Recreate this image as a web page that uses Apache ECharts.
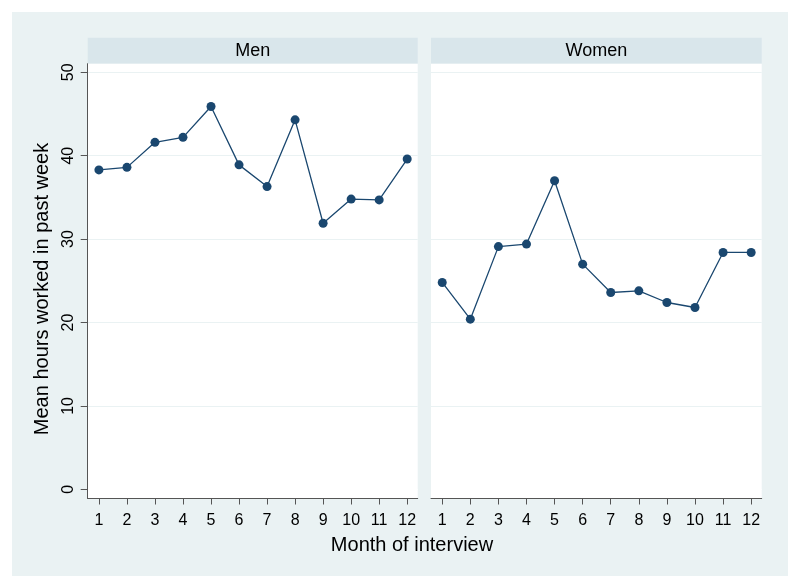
<!DOCTYPE html>
<html>
<head>
<meta charset="utf-8">
<script src="https://cdn.jsdelivr.net/npm/echarts@6/dist/echarts.min.js"></script>
<style>html,body{margin:0;padding:0;background:#fff}#c{width:800px;height:588px}</style>
</head>
<body>
<div id="c"></div>
<script>
const months = [1,2,3,4,5,6,7,8,9,10,11,12];
const menHours = [38.3, 38.6, 41.6, 42.2, 45.9, 38.9, 36.3, 44.3, 31.9, 34.8, 34.7, 39.6];
const womenHours = [24.8, 20.4, 29.1, 29.4, 37.0, 27.0, 23.6, 23.8, 22.4, 21.8, 28.4, 28.4];
const yTicks = [0, 10, 20, 30, 40, 50];
const panelTitles = ['Men', 'Women'];
const xTitle = 'Month of interview';
const yTitle = 'Mean hours worked in past week';

const FONT = 'Liberation Sans, Arial, Helvetica, sans-serif';
const NAVY = '#1A476F';
const BG = '#EAF2F3';
const STRIP = '#D9E6EB';
const AXIS = '#555555';

const grids = [
  {left: 87.7, top: 63.7, width: 330, height: 434.8},
  {left: 431, top: 63.7, width: 330.7, height: 434.8}
];

function xAxisFor(i) {
  return {
    type: 'value', gridIndex: i, min: 0.6, max: 12.375,
    axisLine: {show: true, onZero: false, lineStyle: {color: AXIS, width: 1}},
    axisTick: {show: true, length: 6, customValues: months, lineStyle: {color: AXIS}},
    axisLabel: {customValues: months, margin: 14, fontSize: 16, fontFamily: FONT, color: '#000'},
    splitLine: {show: false}
  };
}
function yAxisFor(i) {
  return {
    type: 'value', gridIndex: i, min: -1.1, max: 51.03,
    axisLine: {show: i === 0, onZero: false, lineStyle: {color: AXIS, width: 1}},
    axisTick: {show: i === 0, length: 7, customValues: yTicks, lineStyle: {color: AXIS}},
    axisLabel: {show: i === 0, customValues: yTicks, rotate: 90, margin: 11, fontSize: 16, fontFamily: FONT, color: '#000'},
    splitLine: {show: true, lineStyle: {color: ['#ffffff', BG, BG, BG, BG, BG], width: 1}}
  };
}

const graphics = [
  {type: 'rect', z: -10, shape: {x: 12, y: 12, width: 776, height: 564}, style: {fill: BG}}
];
grids.forEach((g, i) => {
  graphics.push({type: 'rect', z: -5, shape: {x: g.left, y: 37.7, width: g.width, height: 26}, style: {fill: STRIP}});
  graphics.push({type: 'text', x: g.left + g.width / 2, y: 50.7,
    style: {text: panelTitles[i], font: '18px ' + FONT, fill: '#000', textAlign: 'center', textVerticalAlign: 'middle', align: 'center', verticalAlign: 'middle'}});
});
graphics.push({type: 'text', x: 412, y: 545.7,
  style: {text: xTitle, font: '20px ' + FONT, fill: '#000', textAlign: 'center', textVerticalAlign: 'middle', align: 'center', verticalAlign: 'middle'}});
graphics.push({type: 'text', x: 42.5, y: 289, rotation: Math.PI / 2,
  style: {text: yTitle, font: '20px ' + FONT, fill: '#000', textAlign: 'center', textVerticalAlign: 'middle', align: 'center', verticalAlign: 'middle'}});

function seriesFor(i, values) {
  return {
    type: 'line', xAxisIndex: i, yAxisIndex: i,
    data: months.map((m, k) => [m, values[k]]),
    symbol: 'circle', symbolSize: 9, showSymbol: true,
    lineStyle: {color: NAVY, width: 1.3},
    itemStyle: {color: NAVY},
    animation: false
  };
}

const chart = echarts.init(document.getElementById('c'), null, {renderer: 'canvas'});
chart.setOption({
  animation: false,
  backgroundColor: '#ffffff',
  textStyle: {fontFamily: FONT},
  grid: grids.map(g => Object.assign({show: true, backgroundColor: '#ffffff', borderWidth: 0, containLabel: false}, g)),
  xAxis: [xAxisFor(0), xAxisFor(1)],
  yAxis: [yAxisFor(0), yAxisFor(1)],
  graphic: graphics,
  series: [seriesFor(0, menHours), seriesFor(1, womenHours)]
});
</script>
</body>
</html>
